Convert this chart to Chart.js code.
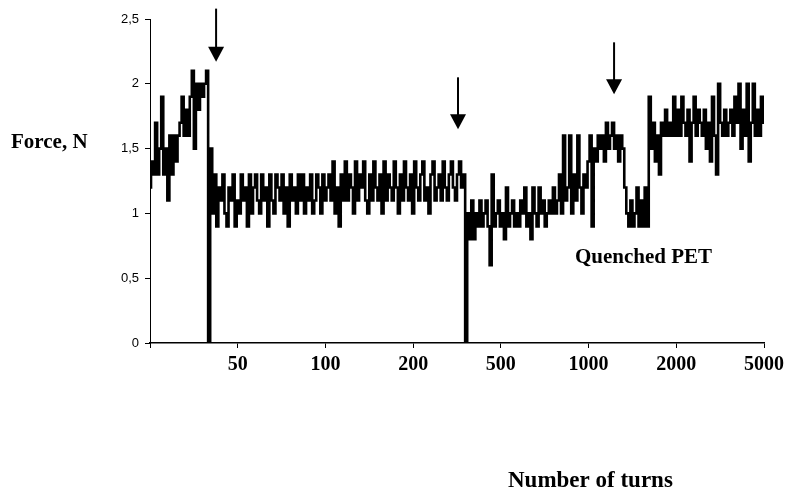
<!DOCTYPE html>
<html>
<head>
<meta charset="utf-8">
<script src="https://cdn.jsdelivr.net/npm/chart.js@4"></script>
<style>
  body { margin: 0; background: #fff; }
  #chart { display: block; }
</style>
</head>
<body>
<canvas id="chart" width="798" height="489"></canvas>
<script>
// force readings (N), one per sample, left to right
const rampUp = [1.2, 1.4, 1.3, 1.7, 1.3, 1.5, 1.9, 1.3, 1.5, 1.1, 1.6, 1.3, 1.6, 1.4, 1.6, 1.7,
  1.9, 1.6, 1.8, 1.6, 1.9, 2.1, 1.5, 2.0, 1.8, 2.0, 1.9, 2.0, 2.1];
const firstDrop = [0];
const middleStage = [1.5, 1.0, 1.3, 0.9, 1.2, 1.1, 1.3, 1.0, 0.9, 1.2, 1.1, 1.3, 0.9, 1.1, 1.0, 1.3,
  1.1, 1.2, 0.9, 1.3, 1.0, 1.2, 1.3, 1.1, 1.0, 1.3, 1.1, 1.2, 0.9, 1.3, 1.1, 1.0, 1.3, 1.2, 1.1, 1.3,
  1.0, 1.2, 0.9, 1.3, 1.1, 1.2, 1.0, 1.3, 1.1, 1.3, 1.0, 1.2, 1.1, 1.3, 1.0, 1.1, 1.3, 1.2, 1.0, 1.3,
  1.1, 1.2, 1.3,
  1.1, 1.4, 1.0, 1.2, 0.9, 1.3, 1.1, 1.4, 1.1, 1.3, 1.2, 1.0, 1.4, 1.1, 1.3, 1.2, 1.4, 1.1, 1.0, 1.3,
  1.1, 1.4, 1.2, 1.1, 1.3, 1.0, 1.4, 1.1, 1.3, 1.2, 1.1, 1.4, 1.2, 1.0, 1.3, 1.1, 1.4, 1.2, 1.1, 1.3,
  1.0, 1.4, 1.2, 1.1, 1.3, 1.4, 1.1, 1.2, 1.0, 1.3, 1.4, 1.1, 1.2, 1.3, 1.1, 1.4, 1.2, 1.1, 1.3, 1.4,
  1.2, 1.1, 1.3, 1.4, 1.2, 1.3];
const secondDrop = [0];
const lowStage = [1.0, 0.8, 1.1, 0.8, 1.0, 0.9, 1.1, 0.9, 1.0, 1.1, 0.9, 0.6, 1.3, 0.9, 1.0, 1.1,
  0.9, 1.0, 0.8, 1.2, 0.9, 1.0, 1.1, 0.9, 1.0, 0.9, 1.1, 1.0, 1.2, 0.9, 1.0, 0.8, 1.2, 1.0, 0.9, 1.2,
  1.0, 1.1, 0.9, 1.0, 1.1, 1.0, 1.2, 1.0, 1.1, 1.3, 1.0, 1.6, 1.1, 1.2, 1.6, 1.0, 1.3, 1.1, 1.6, 1.2,
  1.0, 1.3, 1.2, 1.4, 1.6, 0.9, 1.5];
const plateau = [1.4, 1.6, 1.5, 1.6, 1.4, 1.7, 1.5, 1.6, 1.7, 1.5, 1.6, 1.4, 1.6, 1.5];
const dipBlock = [1.2, 1.0, 0.9, 1.1, 0.9, 1.0, 1.2, 0.9, 1.1, 0.9, 1.2, 0.9];
const finalStage = [1.9, 1.5, 1.7, 1.4, 1.6, 1.3, 1.7, 1.6, 1.8, 1.6, 1.7, 1.6, 1.9, 1.6, 1.8, 1.6,
  1.9, 1.7, 1.6, 1.8, 1.4, 1.7, 1.9, 1.6, 1.8, 1.7, 1.6, 1.8, 1.5, 1.7, 1.4, 1.9, 1.6, 1.3, 2.0, 1.7,
  1.6, 1.8, 1.6, 1.7, 1.8, 1.6, 1.9, 1.7, 2.0, 1.5, 1.8, 1.6, 2.0, 1.4, 1.7, 2.0, 1.6, 1.8, 1.6, 1.9, 1.7];

const xTickLabels = ['', '50', '100', '200', '500', '1000', '2000', '5000'];
const yTickLabels = ['0', '0,5', '1', '1,5', '2', '2,5'];

// arrows marking the stage changes: sample index, top and tip (N)
const arrows = [
  { x: 32.4, from: 2.58, to: 2.17 },
  { x: 151, from: 2.05, to: 1.65 },
  { x: 227.5, from: 2.32, to: 1.92 }
];

const force = [...rampUp, ...firstDrop, ...middleStage, ...secondDrop, ...lowStage, ...plateau, ...dipBlock, ...finalStage];
const lastIndex = force.length - 1;

const serif = "'Liberation Serif', 'Times New Roman', serif";

const overlay = {
  id: 'overlay',
  afterDraw(chart) {
    const { ctx, scales: { x, y } } = chart;
    ctx.save();
    ctx.fillStyle = '#000';
    ctx.strokeStyle = '#000';
    arrows.forEach(a => {
      const px = x.getPixelForValue(a.x);
      const top = y.getPixelForValue(a.from);
      const tip = y.getPixelForValue(a.to);
      ctx.lineWidth = 2;
      ctx.beginPath();
      ctx.moveTo(px, top);
      ctx.lineTo(px, tip - 12);
      ctx.stroke();
      ctx.beginPath();
      ctx.moveTo(px - 8, tip - 15);
      ctx.lineTo(px + 8, tip - 15);
      ctx.lineTo(px, tip);
      ctx.closePath();
      ctx.fill();
    });
    ctx.font = 'bold 21px ' + serif;
    ctx.textBaseline = 'middle';
    ctx.textAlign = 'left';
    ctx.fillText('Force, N', 11, 143);
    ctx.fillText('Quenched PET', 575, 258);
    ctx.font = 'bold 23px ' + serif;
    ctx.fillText('Number of turns', 508, 481);
    ctx.restore();
  }
};

new Chart(document.getElementById('chart'), {
  type: 'line',
  data: {
    datasets: [{
      data: force.map((v, i) => ({ x: i, y: v })),
      borderColor: '#000',
      borderWidth: 2.6,
      pointRadius: 0,
      stepped: 'middle'
    }]
  },
  options: {
    responsive: false,
    animation: false,
    layout: { padding: { top: 19, right: 34, left: 0, bottom: 0 } },
    plugins: { legend: { display: false }, tooltip: { enabled: false } },
    scales: {
      x: {
        type: 'linear',
        min: 0,
        max: lastIndex,
        afterFit: s => { s.height = 146; },
        afterBuildTicks: s => {
          s.ticks = xTickLabels.map((_, i) => ({ value: i * lastIndex / (xTickLabels.length - 1) }));
        },
        border: { color: '#000', width: 1.5 },
        grid: { drawOnChartArea: false, color: '#000', tickLength: 5 },
        ticks: {
          color: '#000',
          padding: 5,
          maxRotation: 0,
          font: { family: serif, weight: 'bold', size: 20 },
          callback: (v, i) => xTickLabels[i]
        }
      },
      y: {
        min: 0,
        max: 2.5,
        afterFit: s => { s.width = 150; },
        border: { color: '#000', width: 1 },
        grid: { drawOnChartArea: false, color: '#000', tickLength: 5 },
        ticks: {
          stepSize: 0.5,
          color: '#000',
          padding: 6,
          font: { family: "'Liberation Sans', Arial, sans-serif", size: 13 },
          callback: (v, i) => yTickLabels[i]
        }
      }
    }
  },
  plugins: [overlay]
});
</script>
</body>
</html>
